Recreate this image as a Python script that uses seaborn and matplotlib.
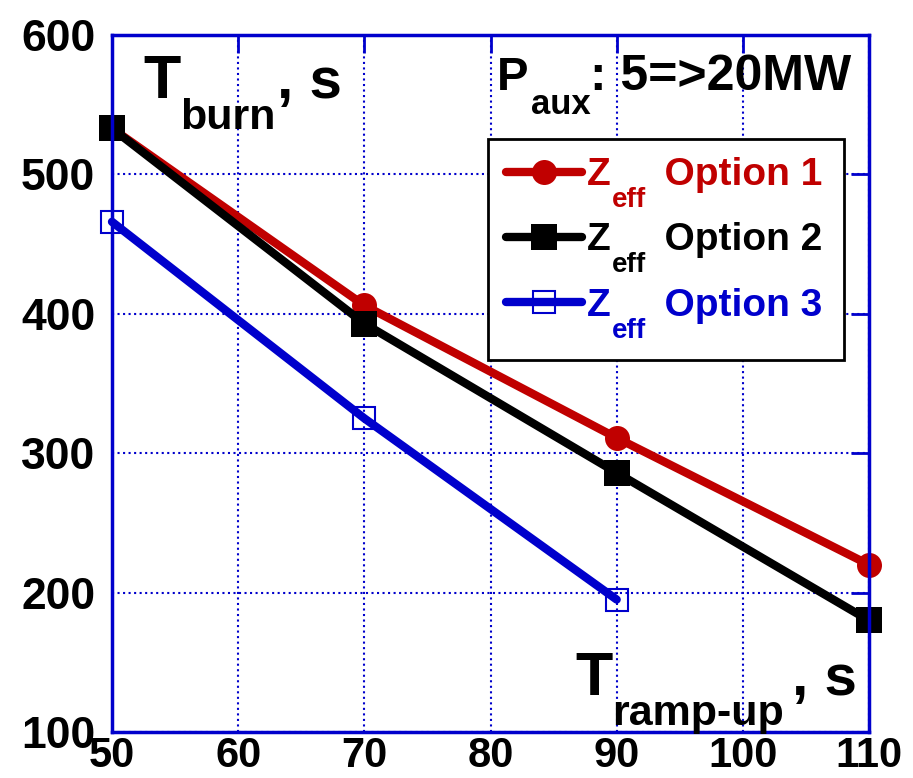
import matplotlib.pyplot as plt
import seaborn as sns
from matplotlib.patches import Rectangle

# burn time vs ramp-up time
ramp_up = [50, 70, 90, 110]
burn_opt1 = [533, 406, 311, 220]
burn_opt2 = [533, 393, 286, 180]
ramp_up_opt3 = [50, 70, 90]
burn_opt3 = [466, 325, 195]
labels = ['Z     Option 1', 'Z     Option 2', 'Z     Option 3']

sns.set_style('white')
plt.rcParams['font.family'] = ['Liberation Sans', 'DejaVu Sans']
plt.rcParams['font.weight'] = 'bold'
plt.rcParams['text.color'] = 'black'
plt.rcParams['xtick.labelcolor'] = 'black'
plt.rcParams['ytick.labelcolor'] = 'black'

W, H = 913, 778
fig = plt.figure(figsize=(W / 100, H / 100), dpi=100)
ax = fig.add_axes([112 / W, 1 - 732 / H, (869 - 112) / W, (732 - 35) / H])

red = '#c00000'
blue = '#0000cc'
colors = [red, 'black', blue]

sns.lineplot(x=ramp_up, y=burn_opt1, color=red, lw=6, marker='o', markersize=18,
             markeredgewidth=0, label=labels[0], ax=ax, clip_on=False)
sns.lineplot(x=ramp_up, y=burn_opt2, color='black', lw=6, marker='s', markersize=19,
             markeredgewidth=0, label=labels[1], ax=ax, clip_on=False)
sns.lineplot(x=ramp_up_opt3, y=burn_opt3, color=blue, lw=6, marker='s', markersize=16,
             markerfacecolor='none', markeredgecolor=blue, markeredgewidth=1.5,
             label=labels[2], ax=ax, clip_on=False)

ax.set_xlim(50, 110)
ax.set_ylim(100, 600)
ax.set_xticks(range(50, 111, 10))
ax.set_yticks(range(100, 601, 100))
ax.set_xlabel('')
ax.set_ylabel('')
ax.grid(True, color=blue, linestyle=':', lw=1.5)
for sp in ax.spines.values():
    sp.set_color(blue)
    sp.set_linewidth(2.5)
ax.tick_params(direction='in', length=13, width=2, color=blue, top=True, right=True)
ax.tick_params(axis='y', pad=12, labelsize=32)
ax.tick_params(axis='x', pad=3, labelsize=30)

# legend box like the original: white panel with thin black border
ax.add_patch(Rectangle((488 / W, 1 - 360 / H), (844 - 488) / W, (360 - 139) / H,
                       transform=fig.transFigure, facecolor='white', edgecolor='black',
                       lw=2, zorder=4.5, clip_on=False))
leg = ax.legend(loc='upper left', bbox_to_anchor=(488 / W, 1 - 139 / H),
                bbox_transform=fig.transFigure, fontsize=28, frameon=False,
                borderaxespad=0, borderpad=0.47, handlelength=1.95,
                handletextpad=0.13, labelspacing=0.75)
for txt, c in zip(leg.get_texts(), colors):
    txt.set_color(c)
    ax.annotate('eff', xy=(0, 0), xycoords=txt, xytext=(25, -14),
                textcoords='offset pixels', fontsize=20, fontweight='bold',
                color=c, ha='left', va='baseline', zorder=6)


def ptext(x, y, s, size):
    fig.text(x / W, 1 - y / H, s, fontsize=size, fontweight='bold',
             ha='left', va='baseline')


ptext(143, 98, 'T', 44)
ptext(180, 129, 'burn', 31)
ptext(277, 98, ', s', 42)

ptext(497, 90, 'P', 34)
ptext(531, 114, 'aux', 25)
ptext(590, 90, ': 5=>20MW', 36)

ptext(575, 695, 'T', 44)
ptext(612, 725, 'ramp-up', 31)
ptext(792, 695, ', s', 42)

fig.savefig('out.png', dpi=100, facecolor='white')
